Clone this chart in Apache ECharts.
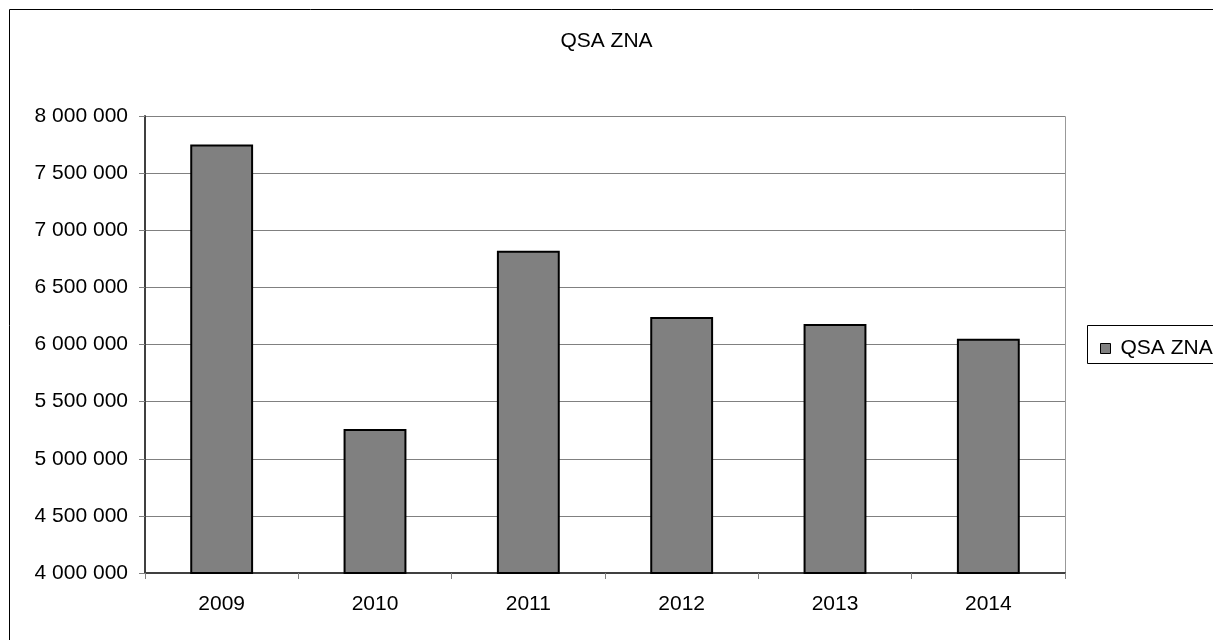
<!DOCTYPE html>
<html><head><meta charset="utf-8">
<script src="https://cdn.jsdelivr.net/npm/echarts@6/dist/echarts.min.js"></script>
<style>html,body{margin:0;padding:0;background:#fff}#c{width:1213px;height:640px}</style>
</head><body><div id="c"></div>
<script>
const categories = ['2009','2010','2011','2012','2013','2014'];
const values = [7750000, 5260000, 6820000, 6240000, 6180000, 6050000];
const seriesName = 'QSA ZNA';
const titleText = 'QSA ZNA';

const fmt = v => String(v).replace(/\B(?=(\d{3})+(?!\d))/g, ' ');
const chart = echarts.init(document.getElementById('c'));
chart.setOption({
  animation: false,
  textStyle: { fontFamily: 'Liberation Sans, Arial, sans-serif' },
  title: { text: titleText, left: 'center', top: 26,
    textStyle: { fontSize: 21, fontWeight: 'normal', color: '#000', fontFamily: 'Liberation Sans' } },
  graphic: [
    { type: 'rect', shape: { x: 9.5, y: 9.5, width: 1300, height: 700 },
      style: { fill: 'none', stroke: '#000', lineWidth: 1 }, z: -10 },
    { type: 'rect', shape: { x: 145.5, y: 116.5, width: 920, height: 456 },
      style: { fill: 'none', stroke: '#999', lineWidth: 1 }, z: -5 },
    { type: 'rect', shape: { x: 1087.5, y: 325.5, width: 200, height: 38 },
      style: { fill: '#fff', stroke: '#000', lineWidth: 1 }, z: 1 }
  ],
  legend: { data: [seriesName], left: 1095, top: 333, icon: 'rect', itemWidth: 10, itemHeight: 10,
    z: 5,
    itemStyle: { borderColor: '#000', borderWidth: 1 },
    textStyle: { fontSize: 21, color: '#000', padding: [0,0,0,5], fontFamily: 'Liberation Sans' } },
  grid: { left: 145, right: 148, top: 116, bottom: 67, containLabel: false },
  xAxis: { type: 'category', data: categories,
    axisLine: { lineStyle: { color: '#404040', width: 2 } },
    axisTick: { show: true, alignWithLabel: false, length: 6, lineStyle: { color: '#808080' } },
    axisLabel: { fontSize: 21, color: '#000', margin: 21 } },
  yAxis: { type: 'value', min: 4000000, max: 8000000, interval: 500000,
    axisLine: { show: true, lineStyle: { color: '#404040', width: 2 } },
    axisTick: { show: true, length: 6, lineStyle: { color: '#808080' } },
    splitLine: { lineStyle: { color: '#808080', width: 1 } },
    axisLabel: { fontSize: 21, color: '#000', margin: 17, formatter: fmt } },
  series: [{ name: seriesName, type: 'bar', data: values, barWidth: '41%',
    itemStyle: { color: '#808080', borderColor: '#000', borderWidth: 2 } }]
});
</script></body></html>
